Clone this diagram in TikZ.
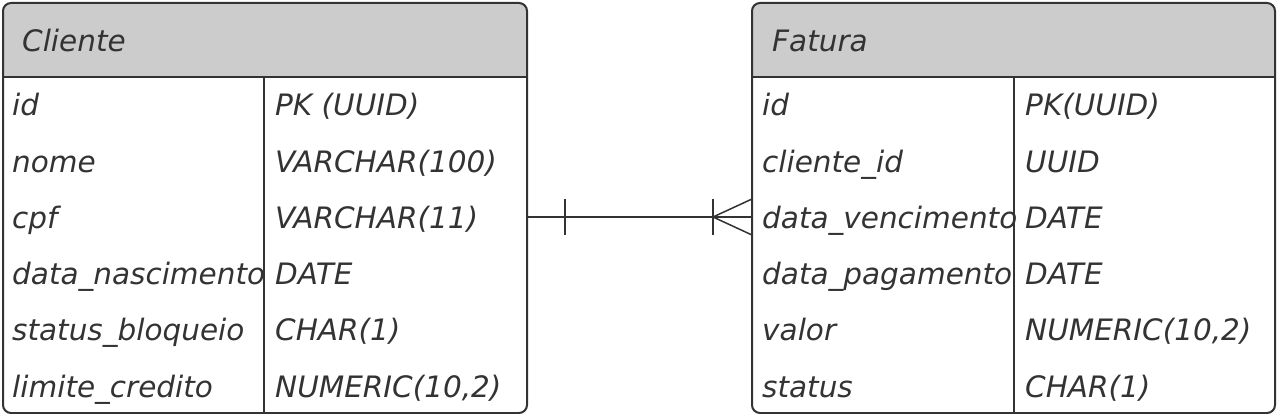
\documentclass[tikz,border=0pt]{standalone}
\usepackage{fontspec}
\setmainfont{DejaVu Sans}
\usetikzlibrary{positioning}
\definecolor{hdr}{HTML}{CCCCCC}
\definecolor{ink}{HTML}{333333}
\tikzset{
    tbl/.style = {draw = ink, line width = 2pt, rounded corners = 8pt, minimum width = 524pt, minimum height = 410pt, inner sep = 0pt},
    hdrbox/.style = {fill = hdr, rounded corners = 8pt, minimum width = 524pt, minimum height = 74pt, inner sep = 0pt},
    txt/.style = {anchor = base west, inner sep = 0pt, text = ink, font = \fontsize{29.5}{32}\selectfont\itshape}
}
\begin{document}
\begin{tikzpicture}[x = 1pt, y = -1pt]
    \useasboundingbox (0, 0) rectangle (1277, 414);
    \node[hdrbox] (cliHdr) at (265, 40) {};
    \fill[hdr] (cliHdr.west) rectangle (cliHdr.south east);
    \node[hdrbox] (fatHdr) at (1013.5, 40) {};
    \fill[hdr] (fatHdr.west) rectangle (fatHdr.south east);
    \node[txt] (cliTitle) at (22, 52) {Cliente};
    \node[txt] (fatTitle) at (772, 52) {Fatura};
    \foreach \n/\t [count = \i] in {id/{PK (UUID)}, nome/{VARCHAR(100)}, cpf/{VARCHAR(11)}, data\_nascimento/DATE, status\_bloqueio/{CHAR(1)}, limite\_credito/{NUMERIC(10,2)}}{
        \node[txt] (cli-n\i) at (12, {116 + 56.2*(\i - 1)}) {\n};
        \node[txt] (cli-t\i) at (275, {116 + 56.2*(\i - 1)}) {\t};
    }
    \foreach \n/\t [count = \i] in {id/{PK(UUID)}, cliente\_id/UUID, data\_vencimento/DATE, data\_pagamento/DATE, valor/{NUMERIC(10,2)}, status/{CHAR(1)}}{
        \node[txt] (fat-n\i) at (762, {116 + 56.2*(\i - 1)}) {\n};
        \node[txt] (fat-t\i) at (1025, {116 + 56.2*(\i - 1)}) {\t};
    }
    \node[tbl] (cliente) at (265, 208) {};
    \node[tbl, minimum width = 523pt] (fatura) at (1013.5, 208) {};
    \draw[ink, line width = 2pt] (cliHdr.south west) -- (cliHdr.south east);
    \draw[ink, line width = 2pt] (fatHdr.south west) -- (fatHdr.south east);
    \draw[ink, line width = 2pt] (264, 77) -- (cliente.south -| 264, 0);
    \draw[ink, line width = 2pt] (1014, 77) -- (fatura.south -| 1014, 0);
    \coordinate (relA) at (527, 217);
    \coordinate (relB) at (752, 217);
    \draw[ink, line width = 1.5pt] (relA) -- (relB);
    \draw[ink, line width = 2pt] ([xshift = 38pt, yshift = -18pt]relA) -- ([xshift = 38pt, yshift = 18pt]relA);
    \draw[ink, line width = 2pt] ([xshift = -39pt, yshift = -18pt]relB) -- ([xshift = -39pt, yshift = 18pt]relB);
    \draw[ink, line width = 1.5pt] ([yshift = -18pt]relB) -- ([xshift = -39pt]relB) -- ([yshift = 18pt]relB);
\end{tikzpicture}
\end{document}
